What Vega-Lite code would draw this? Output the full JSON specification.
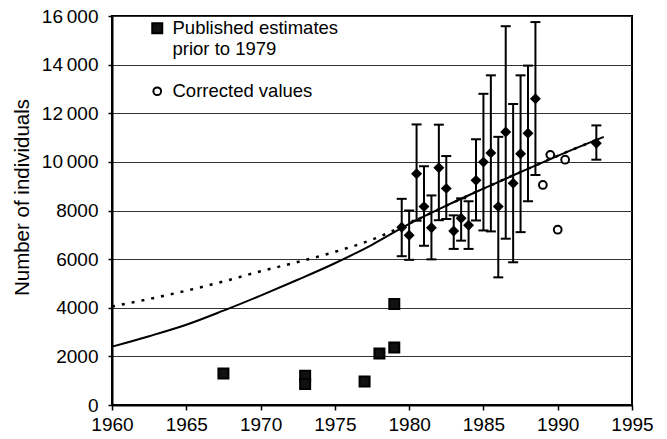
{
  "$schema": "https://vega.github.io/schema/vega-lite/v6.json",
  "width": 520,
  "height": 389,
  "autosize": {"type": "none"},
  "padding": {"left": 112, "top": 16, "right": 35, "bottom": 34},
  "background": "white",
  "config": {
    "font": "Liberation Sans",
    "view": {"stroke": "black", "strokeWidth": 2},
    "axis": {
      "labelFont": "Liberation Sans",
      "labelFontSize": 19,
      "labelColor": "black",
      "titleFont": "Liberation Sans",
      "titleColor": "black",
      "titleFontWeight": "normal",
      "domainColor": "black",
      "domainWidth": 2,
      "tickColor": "black",
      "tickWidth": 1.5
    },
    "legend": {
      "labelFont": "Liberation Sans",
      "labelFontSize": 18.5,
      "labelColor": "black",
      "labelLimit": 400
    }
  },
  "datasets": {
    "solid": [
      {"year": 1960, "value": 2400},
      {"year": 1962.5, "value": 2830},
      {"year": 1965, "value": 3300},
      {"year": 1967.5, "value": 3880},
      {"year": 1970, "value": 4500},
      {"year": 1972.5, "value": 5150},
      {"year": 1975, "value": 5830},
      {"year": 1977.5, "value": 6590},
      {"year": 1980, "value": 7450},
      {"year": 1982.5, "value": 8200},
      {"year": 1985, "value": 8900},
      {"year": 1987.5, "value": 9580},
      {"year": 1990, "value": 10250},
      {"year": 1993.1, "value": 11030}
    ],
    "dotted": [
      {"year": 1960, "value": 4050},
      {"year": 1962.5, "value": 4360},
      {"year": 1965, "value": 4700},
      {"year": 1967.5, "value": 5080},
      {"year": 1970, "value": 5500},
      {"year": 1972.5, "value": 5880},
      {"year": 1975, "value": 6300},
      {"year": 1977.5, "value": 6800},
      {"year": 1980, "value": 7470},
      {"year": 1982.5, "value": 8200},
      {"year": 1985, "value": 8900},
      {"year": 1987.5, "value": 9580},
      {"year": 1990, "value": 10250},
      {"year": 1992.8, "value": 10950}
    ],
    "counts": [
      {"year": 1979.5, "value": 7310, "lo": 6120, "hi": 8480},
      {"year": 1980.0, "value": 6980, "lo": 5970, "hi": 8000},
      {"year": 1980.5, "value": 9510, "lo": 7580, "hi": 11540},
      {"year": 1981.0, "value": 8160, "lo": 6550, "hi": 9820},
      {"year": 1981.5, "value": 7290, "lo": 5990, "hi": 8620},
      {"year": 1982.0, "value": 9760, "lo": 7600, "hi": 11530},
      {"year": 1982.5, "value": 8910, "lo": 7650, "hi": 10240},
      {"year": 1983.0, "value": 7160, "lo": 6420, "hi": 7800},
      {"year": 1983.5, "value": 7680, "lo": 6760, "hi": 8500},
      {"year": 1984.0, "value": 7390, "lo": 6420, "hi": 8380},
      {"year": 1984.5, "value": 9240, "lo": 7590, "hi": 10930},
      {"year": 1985.0, "value": 9990, "lo": 7180, "hi": 12800},
      {"year": 1985.5, "value": 10370, "lo": 7140, "hi": 13560},
      {"year": 1986.0, "value": 8160, "lo": 5250, "hi": 11030},
      {"year": 1986.5, "value": 11230, "lo": 6840, "hi": 15580},
      {"year": 1987.0, "value": 9120, "lo": 5870, "hi": 12380},
      {"year": 1987.5, "value": 10330, "lo": 7110, "hi": 13560},
      {"year": 1988.0, "value": 11180, "lo": 8380, "hi": 13960},
      {"year": 1988.5, "value": 12600, "lo": 9460, "hi": 15750},
      {"year": 1992.6, "value": 10770, "lo": 10090, "hi": 11500}
    ],
    "points": [
      {"series": "Published estimates prior to 1979", "year": 1967.5, "value": 1300},
      {"series": "Published estimates prior to 1979", "year": 1973.0, "value": 1200},
      {"series": "Published estimates prior to 1979", "year": 1973.0, "value": 860},
      {"series": "Published estimates prior to 1979", "year": 1977.0, "value": 970},
      {"series": "Published estimates prior to 1979", "year": 1978.0, "value": 2120},
      {"series": "Published estimates prior to 1979", "year": 1979.0, "value": 2370},
      {"series": "Published estimates prior to 1979", "year": 1979.0, "value": 4150},
      {"series": "Corrected values", "year": 1989.0, "value": 9050},
      {"series": "Corrected values", "year": 1989.5, "value": 10290},
      {"series": "Corrected values", "year": 1990.0, "value": 7210},
      {"series": "Corrected values", "year": 1990.5, "value": 10090}
    ]
  },
  "layer": [
    {
      "data": {"name": "solid"},
      "mark": {"type": "line", "color": "black", "strokeWidth": 2, "interpolate": "monotone"},
      "encoding": {
        "x": {
          "field": "year", "type": "quantitative",
          "scale": {"domain": [1960, 1995], "nice": false, "zero": false},
          "axis": {
            "values": [1960, 1965, 1970, 1975, 1980, 1985, 1990, 1995],
            "format": "d", "title": null, "grid": false,
            "tickSize": 5, "labelPadding": 5, "labelFlush": false
          }
        },
        "y": {
          "field": "value", "type": "quantitative",
          "scale": {"domain": [0, 16000], "nice": false},
          "axis": {
            "values": [0, 2000, 4000, 6000, 8000, 10000, 12000, 14000, 16000],
            "labelExpr": "datum.value >= 10000 ? replace(format(datum.value, ','), ',', '\u2009') : format(datum.value, 'd')",
            "grid": true, "gridColor": "#333333", "gridWidth": 1,
            "tickSize": 4, "labelPadding": 10,
            "title": "Number of individuals",
            "titleFontSize": 20.5,
            "titleX": -84, "titleY": 181,
            "titleBaseline": "alphabetic", "titleAlign": "center", "titleAngle": -90
          }
        }
      }
    },
    {
      "data": {"name": "dotted"},
      "mark": {"type": "line", "color": "black", "strokeWidth": 2.5, "strokeDash": [3, 7], "interpolate": "monotone"},
      "encoding": {
        "x": {"field": "year", "type": "quantitative"},
        "y": {"field": "value", "type": "quantitative"}
      }
    },
    {
      "data": {"name": "counts"},
      "mark": {"type": "rule", "color": "black", "strokeWidth": 2},
      "encoding": {
        "x": {"field": "year", "type": "quantitative"},
        "y": {"field": "lo", "type": "quantitative"},
        "y2": {"field": "hi"}
      }
    },
    {
      "data": {"name": "counts"},
      "mark": {"type": "tick", "orient": "horizontal", "color": "black", "size": 10, "thickness": 2, "opacity": 1},
      "encoding": {
        "x": {"field": "year", "type": "quantitative"},
        "y": {"field": "lo", "type": "quantitative"}
      }
    },
    {
      "data": {"name": "counts"},
      "mark": {"type": "tick", "orient": "horizontal", "color": "black", "size": 10, "thickness": 2, "opacity": 1},
      "encoding": {
        "x": {"field": "year", "type": "quantitative"},
        "y": {"field": "hi", "type": "quantitative"}
      }
    },
    {
      "data": {"name": "counts"},
      "mark": {"type": "point", "shape": "diamond", "filled": true, "color": "black", "size": 120, "opacity": 1},
      "encoding": {
        "x": {"field": "year", "type": "quantitative"},
        "y": {"field": "value", "type": "quantitative"}
      }
    },
    {
      "data": {"name": "points"},
      "mark": {"type": "point", "filled": true, "stroke": "black", "strokeWidth": 2, "opacity": 1},
      "encoding": {
        "x": {"field": "year", "type": "quantitative"},
        "y": {"field": "value", "type": "quantitative"},
        "shape": {
          "field": "series", "type": "nominal",
          "scale": {"domain": ["Published estimates prior to 1979", "Corrected values"], "range": ["square", "circle"]},
          "legend": {
            "orient": "none", "legendX": 36, "legendY": 3,
            "title": null, "direction": "vertical",
            "labelOffset": 6, "rowPadding": 23,
            "symbolStrokeColor": "black", "symbolStrokeWidth": 2, "symbolOpacity": 1,
            "labelExpr": "datum.label == 'Published estimates prior to 1979' ? ['Published estimates', 'prior to 1979'] : datum.label"
          }
        },
        "fill": {
          "field": "series", "type": "nominal",
          "scale": {"domain": ["Published estimates prior to 1979", "Corrected values"], "range": ["#111111", "white"]}
        },
        "size": {
          "field": "series", "type": "nominal",
          "scale": {"domain": ["Published estimates prior to 1979", "Corrected values"], "range": [100, 60]}
        }
      }
    }
  ]
}
